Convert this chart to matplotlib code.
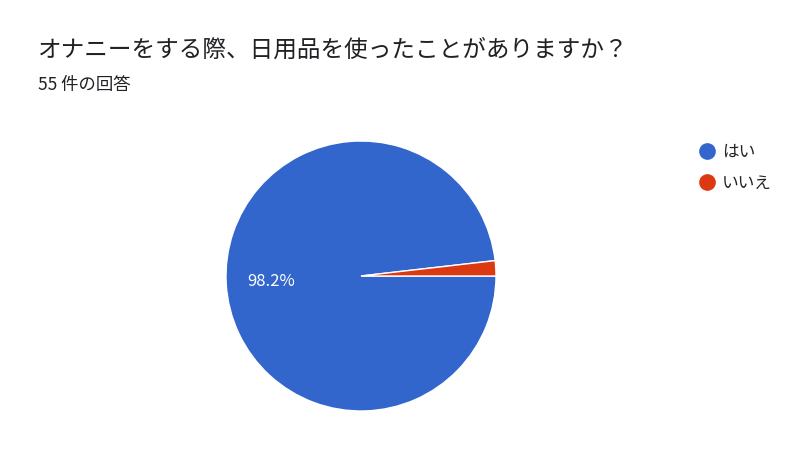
import matplotlib
matplotlib.use("Agg")
import matplotlib.pyplot as plt
from matplotlib.lines import Line2D

plt.rcParams['font.family'] = ['Noto Sans CJK JP', 'DejaVu Sans']

title = "オナニーをする際、日用品を使ったことがありますか？"
subtitle = "55 件の回答"
categories = ["はい", "いいえ"]
values = [54, 1]
colors = ["#3366CC", "#DC3912"]

fig = plt.figure(figsize=(8, 4.49), dpi=100)
fig.patch.set_facecolor("white")

fig.text(38/800, 1 - 50/449, title, fontsize=17, color="#202124", va="center", ha="left")
fig.text(38/800, 1 - 85/449, subtitle, fontsize=12.5, color="#202124", va="center", ha="left")

# pie axes: center (361,276), radius 135
r = 135
cx, cy = 361, 276
ax = fig.add_axes([(cx - r)/800, 1 - (cy + r)/449, 2*r/800, 2*r/449])

def fmt(p):
    return f"{p:.1f}%" if p > 5 else ""

wedges, texts, autotexts = ax.pie(values, colors=colors, startangle=0, counterclock=False,
                                  autopct=fmt, pctdistance=0.67,
                                  wedgeprops=dict(edgecolor="white", linewidth=1),
                                  textprops=dict(color="white", fontsize=12))
ax.set_aspect("auto")
ax.set_xlim(-1, 1)
ax.set_ylim(-1, 1)

handles = [Line2D([0], [0], marker='o', linestyle='', markersize=11,
                  markerfacecolor=c, markeredgecolor=c) for c in colors]
leg = fig.legend(handles, categories, loc="upper left", bbox_to_anchor=(690/800, 1 - 137/449),
                 frameon=False, fontsize=12, handletextpad=0.3, labelspacing=0.85,
                 handlelength=1.2, borderaxespad=0)
for t in leg.get_texts():
    t.set_color("#202124")

fig.savefig("out.png", dpi=100, facecolor="white")
